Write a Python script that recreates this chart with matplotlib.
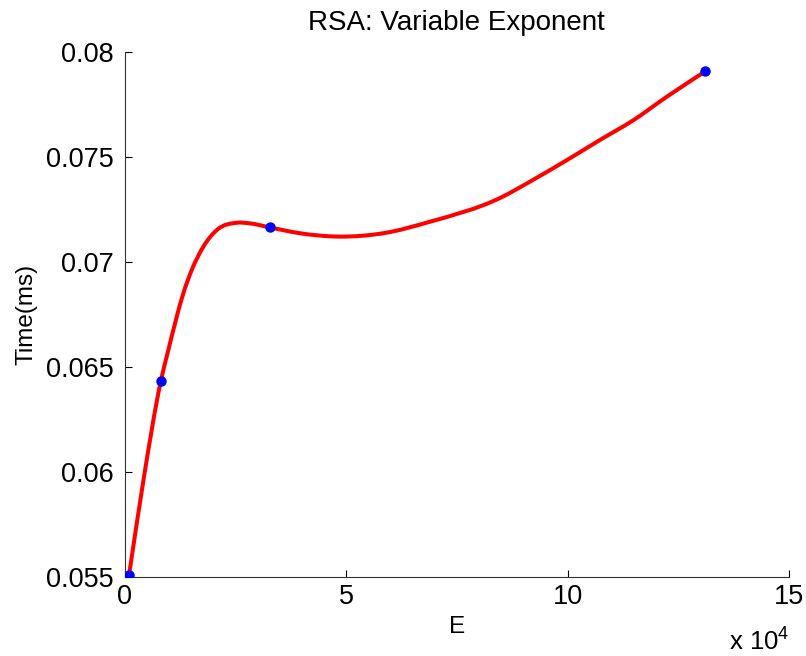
import numpy as np
import matplotlib
matplotlib.use('Agg')
import matplotlib.pyplot as plt
from matplotlib.path import Path
from matplotlib.patches import PathPatch
from matplotlib.ticker import FuncFormatter

# Measured points (exponent value vs time in ms)
exponents = [1025, 8193, 32769, 131073]
times_ms = [0.0551, 0.06433, 0.07165, 0.07908]

# Fitted curve
curve_e = [1025, 4400, 8193, 9890, 11400, 13270, 15170, 17790, 20810, 25330,
           28330, 32769, 39600, 48650, 58400, 68960, 84760, 92280, 99820,
           107300, 114900, 122400, 131073]
curve_t = [0.0551, 0.05978, 0.06433, 0.06581, 0.06708, 0.06851, 0.06962,
           0.07073, 0.07152, 0.07187, 0.07184, 0.07165, 0.07137, 0.07121,
           0.07137, 0.07192, 0.07305, 0.07392, 0.07485, 0.07581, 0.07676,
           0.07787, 0.07908]

plt.rcParams['font.family'] = ['Liberation Sans', 'DejaVu Sans']
plt.rcParams['mathtext.fontset'] = 'custom'
plt.rcParams['mathtext.rm'] = 'Liberation Sans'


def smooth_path(xs, ys):
    # Hermite segments through the read points, drawn as Bezier curves
    xs = np.asarray(xs, float)
    ys = np.asarray(ys, float)
    n = len(xs)
    h = np.diff(xs)
    d = np.diff(ys) / h
    slopes = np.empty(n)
    slopes[0] = d[0]
    slopes[-1] = d[-1]
    for i in range(1, n - 1):
        slopes[i] = (h[i - 1] * d[i] + h[i] * d[i - 1]) / (h[i - 1] + h[i])
    verts = [(xs[0], ys[0])]
    codes = [Path.MOVETO]
    for i in range(n - 1):
        verts += [(xs[i] + h[i] / 3, ys[i] + slopes[i] * h[i] / 3),
                  (xs[i + 1] - h[i] / 3, ys[i + 1] - slopes[i + 1] * h[i] / 3),
                  (xs[i + 1], ys[i + 1])]
        codes += [Path.CURVE4] * 3
    return Path(verts, codes)


fig = plt.figure(figsize=(8.06, 6.56), dpi=100)
ax = fig.add_axes([0.1545, 0.1204, 0.8245, 0.8003])

ax.add_patch(PathPatch(smooth_path(curve_e, curve_t), facecolor='none',
                       edgecolor='red', linewidth=2.9, zorder=2,
                       capstyle='round', joinstyle='round'))
ax.plot(exponents, times_ms, 'o', color='blue', markersize=6.5, zorder=3)

ax.set_xlim(0, 150000)
ax.set_ylim(0.055, 0.08)
ax.set_xticks([0, 50000, 100000, 150000])
ax.set_yticks([0.055, 0.06, 0.065, 0.07, 0.075, 0.08])
ax.xaxis.set_major_formatter(FuncFormatter(lambda v, p: f'{v / 1e4:g}'))
ax.yaxis.set_major_formatter(FuncFormatter(lambda v, p: f'{v:g}'))
ax.tick_params(direction='in', length=5, width=0.8, labelsize=19.5)
ax.tick_params(axis='y', pad=8)
ax.tick_params(axis='x', pad=5)

for side in ['top', 'right']:
    ax.spines[side].set_visible(False)
for side in ['left', 'bottom']:
    ax.spines[side].set_linewidth(0.8)
    ax.spines[side].set_color('#333333')

ax.set_title('RSA: Variable Exponent', fontsize=20, pad=16)
ax.set_xlabel('E', fontsize=17.5, labelpad=4)
ax.set_ylabel('Time(ms)', fontsize=17.5, labelpad=6)
ax.text(1.0, -0.139, r'x 10$^{4}$', transform=ax.transAxes,
        ha='right', va='baseline', fontsize=18.5)

fig.savefig('out.png', dpi=100)
